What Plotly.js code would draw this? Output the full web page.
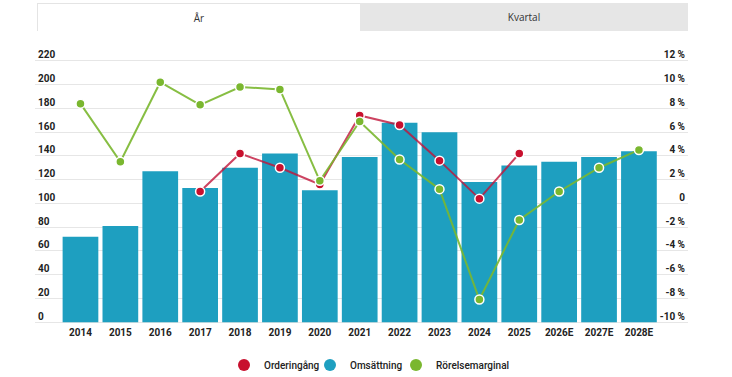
<!DOCTYPE html>
<html>
<head>
<meta charset="utf-8">
<script src="https://cdn.plot.ly/plotly-3.0.1.min.js"></script>
<style>
  html, body { margin:0; padding:0; background:#fff; }
  #wrap { position:relative; width:732px; height:377px; }
  #chart { position:absolute; left:0; top:0; width:732px; height:377px; }
  .tab { position:absolute; top:3px; height:28px; line-height:28px; text-align:center;
         font-family:"Open Sans", sans-serif; font-size:10px; color:#333; box-sizing:border-box; pointer-events:none; }
  #tab1 { left:37px; width:323px; background:#fff; border-left:1px solid #e4e4e4; border-top:1px solid #e4e4e4; }
  #tab2 { left:360px; width:328px; background:#e6e6e6; }
</style>
</head>
<body>
<div id="wrap">
  <div id="chart"></div>
  <div class="tab" id="tab1">År</div>
  <div class="tab" id="tab2">Kvartal</div>
</div>
<script>
const years = ["2014","2015","2016","2017","2018","2019","2020","2021","2022","2023","2024","2025","2026E","2027E","2028E"];
const omsattning = [72, 81, 127, 113, 130, 142, 111, 139, 168, 160, 118, 132, 135, 139, 144];
const orderingang = [null, null, null, 110, 142, 130, 116, 174, 166, 136, 104, 142, null, null, null];
const rorelsemarginal = [8.4, 3.5, 10.2, 8.3, 9.8, 9.6, 1.9, 6.9, 3.7, 1.2, -8.1, -1.4, 1.0, 3.0, 4.5];
const leftTicks = [0, 20, 40, 60, 80, 100, 120, 140, 160, 180, 200, 220];
const rightTicks = [-10, -8, -6, -4, -2, 0, 2, 4, 6, 8, 10, 12];
const rightTickText = ["-10 %", "-8 %", "-6 %", "-4 %", "-2 %", "0", "2 %", "4 %", "6 %", "8 %", "10 %", "12 %"];
const seriesNames = ["Orderingång", "Omsättning", "Rörelsemarginal"];

const BLUE = "#1e9fc0", RED = "#c8102e", GREEN = "#7ab72f";
const FAM = "Roboto, sans-serif";
const tickFont = {family: FAM, size: 10, color: "#222", weight: 700};

const traces = [
  {type: "bar", x: years, y: omsattning, marker: {color: BLUE}, showlegend: false, hoverinfo: "skip"},
  {type: "scatter", mode: "lines+markers", x: years, y: orderingang, yaxis: "y",
   line: {color: "rgba(192,20,58,0.8)", width: 2},
   marker: {color: RED, size: 9, line: {color: "#fff", width: 1.5}}, showlegend: false, hoverinfo: "skip"},
  {type: "scatter", mode: "lines+markers", x: years, y: rorelsemarginal, yaxis: "y2",
   line: {color: "rgba(122,183,47,0.9)", width: 2},
   marker: {color: GREEN, size: 9, line: {color: "#fff", width: 1.5}}, showlegend: false, hoverinfo: "skip"},
  {type: "scatter", mode: "markers", x: [null], y: [null], name: seriesNames[0], marker: {color: RED, size: 12}},
  {type: "scatter", mode: "markers", x: [null], y: [null], name: seriesNames[1], marker: {color: BLUE, size: 12}},
  {type: "scatter", mode: "markers", x: [null], y: [null], name: seriesNames[2], marker: {color: GREEN, size: 12}},
  {type: "scatter", mode: "markers", x: [null], y: [null], name: "\u00a0", showlegend: true,
   marker: {color: "rgba(0,0,0,0)", size: 1}}
];

const layout = {
  width: 732, height: 377,
  margin: {l: 35, r: 44, t: 49.1, b: 43.1, pad: 0, autoexpand: false},
  paper_bgcolor: "#fff", plot_bgcolor: "#fff",
  bargap: 0.105,
  showlegend: true,
  legend: {orientation: "h", xref: "container", x: 0.306, xanchor: "left", yref: "container", y: 0.032, yanchor: "middle",
           entrywidth: 41, entrywidthmode: "pixels",
           font: {family: FAM, size: 10, color: "#222", weight: 500}},
  xaxis: {type: "category", range: [-1.14, 15.23], showgrid: false, zeroline: false, showline: false,
          ticks: "", tickfont: tickFont, ticklabelstandoff: -9, fixedrange: true, automargin: false},
  yaxis: {range: [-10, 230], tickvals: leftTicks, gridcolor: "#e6e6e6", gridwidth: 1, zeroline: false,
          showline: false, ticks: "", ticklabelposition: "inside", ticklabelshift: -6, tickfont: tickFont,
          fixedrange: true, automargin: false},
  yaxis2: {range: [-11, 13], overlaying: "y", side: "right", tickvals: rightTicks, ticktext: rightTickText,
           showgrid: false, zeroline: false, showline: false, ticks: "", ticklabelposition: "inside",
           ticklabelshift: -6, tickfont: tickFont, fixedrange: true, automargin: false}
};

Plotly.newPlot("chart", traces, layout, {displayModeBar: false, staticPlot: true});
</script>
</body>
</html>
